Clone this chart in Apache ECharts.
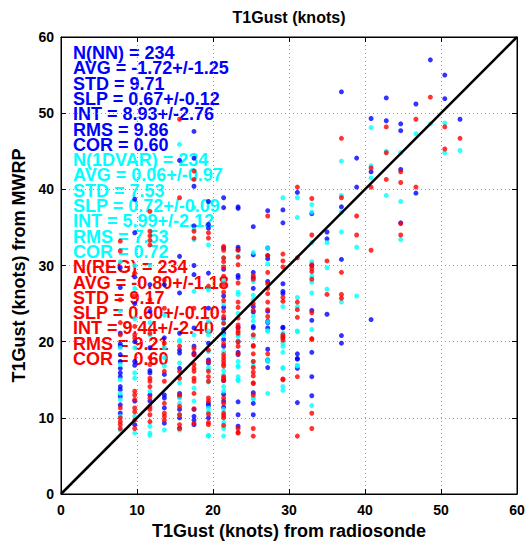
<!DOCTYPE html>
<html>
<head>
<meta charset="utf-8">
<script src="https://cdn.jsdelivr.net/npm/echarts@6/dist/echarts.min.js"></script>
<style>
html,body{margin:0;padding:0;background:#fff;}
#chart{width:528px;height:545px;}
</style>
</head>
<body>
<div id="chart"></div>
<script>
// Radiosonde gust values (knots) for each column of points
const colX = [7.8, 9.7, 11.7, 13.6, 15.6, 17.5, 19.4, 21.4, 23.3, 25.3, 27.2, 29.2, 31.1, 33.0, 35.0, 36.9, 38.9, 40.8, 42.8, 44.7, 46.7, 48.6, 50.5, 52.5];

// NN (blue) MWRP values per column
const nnY = [
  [29.7, 27.1, 21.1, 19.7, 19.4, 18.3, 17.4, 16.5, 15.9, 15.4, 14.1, 13.7, 12.8, 11.7, 10.6],
  [38.7, 34.3, 28.5, 25.0, 20.0, 17.4, 16.9, 12.2, 9.1],
  [27.5, 24.0, 19.2, 16.2, 15.9, 13.0, 12.2],
  [27.5, 20.5, 15.7, 13.0, 12.6, 11.3, 9.3],
  [43.8, 31.2, 26.4, 21.1, 18.9, 18.5, 16.5, 13.2, 12.8, 11.1, 10.0, 8.6],
  [47.6, 44.1, 40.4, 35.2, 30.0, 28.8, 21.8, 19.4, 18.5, 18.3, 11.1, 10.2, 9.7, 9.1],
  [38.4, 35.4, 34.9, 29.0, 24.4, 19.8, 17.6, 17.2, 11.9, 11.6, 10.0],
  [38.9, 37.6, 32.3, 29.5, 26.0, 24.5, 23.0, 21.6, 21.1, 20.3, 19.4, 14.9, 13.1, 12.2, 11.4],
  [37.7, 37.5, 32.4, 32.1, 28.7, 28.4, 21.9, 20.0, 18.6, 18.3, 12.1, 10.4, 8.9],
  [35.1, 31.4, 29.1, 28.4, 27.0, 24.6, 23.9, 22.0, 21.8, 13.3, 11.9, 10.4],
  [37.2, 32.3, 31.3, 30.9, 27.9, 24.0, 22.7, 22.5, 21.8, 19.0, 17.6, 17.5, 16.6],
  [37.3, 35.6, 27.6, 26.6, 26.3, 21.9, 21.8],
  [39.6, 18.4, 17.8, 17.7, 16.5, 12.0],
  [36.8, 30.0, 24.1, 22.8, 18.6, 15.4, 12.9],
  [34.4, 33.5, 23.6],
  [52.8, 37.7, 30.8, 20.8, 19.8],
  [44.1, 40.3],
  [49.3, 42.3, 22.9],
  [52.0, 49.0],
  [48.6, 47.7, 42.6, 35.6],
  [51.2, 39.5],
  [57.0],
  [55.0, 51.9],
  [49.2]
];

// 1DVAR (cyan) MWRP values per column
const dvarY = [
  [30.5, 24.0, 19.2, 17.0, 15.0, 13.2, 12.4, 10.2, 8.4],
  [30.0, 27.0, 23.0, 19.2, 15.9, 15.2, 10.2, 8.0],
  [30.0, 22.5, 20.9, 13.5, 8.9, 8.0, 7.7],
  [23.5, 19.2, 17.9, 16.8, 8.4],
  [45.9, 20.2, 20.0, 17.2, 14.6, 12.6, 11.9, 10.4, 8.4],
  [37.6, 34.7, 33.4, 26.6, 20.9, 13.9, 12.2],
  [32.7, 27.0, 26.8, 22.7, 21.4, 20.9, 18.7, 16.6, 16.3, 14.7, 11.3, 10.8, 7.7, 7.6],
  [31.0, 28.0, 25.0, 22.5, 20.8, 18.7, 16.2, 15.7, 14.1, 13.5, 11.1, 9.4, 8.6, 7.6],
  [31.2, 26.5, 26.2, 23.7, 20.9, 20.7, 20.1, 17.4, 16.7, 16.8, 15.4, 15.0, 14.9],
  [31.7, 27.9, 26.1, 25.5, 23.3, 22.7, 20.8, 20.6, 17.4, 16.8, 12.6, 12.5],
  [32.3, 30.2, 22.6, 21.4, 21.4, 17.6, 17.4, 13.2],
  [38.9, 24.6, 21.1, 20.8, 19.8, 19.4, 18.6, 16.6, 16.5, 14.1, 13.6],
  [38.9, 36.3, 25.8, 24.6, 21.4, 21.3, 16.9, 16.8],
  [38.0, 37.0, 33.0, 30.5, 28.6, 27.8, 26.4, 21.6, 11.6],
  [33.0, 29.7, 26.9],
  [43.7, 39.2, 37.0, 34.4, 25.2],
  [32.4, 26.0],
  [48.1, 43.1, 41.5],
  [45.0, 39.2],
  [44.8, 38.4, 33.4],
  [47.3],
  [48.6],
  [48.7, 44.8],
  [45.1]
];

// REG (red) MWRP values per column
const regY = [
  [33.2, 31.9, 25.5, 22.5, 20.9, 11.3, 10.0, 9.5, 9.1, 8.6],
  [29.0, 26.0, 22.0, 20.9, 20.5, 13.5, 13.0, 12.4, 11.3, 10.8, 9.7, 8.6],
  [37.1, 34.5, 33.9, 33.3, 32.7, 25.5, 21.1, 17.9, 17.0, 15.2, 14.8, 14.1, 12.6, 11.5, 11.1, 10.4, 9.5],
  [28.1, 24.4, 19.8, 16.1, 14.8, 11.9, 10.6, 10.2, 9.7],
  [49.2, 38.9, 19.4, 16.1, 15.2, 13.0, 11.5, 10.4, 9.1, 8.6],
  [42.4, 41.3, 34.5, 33.6, 24.4, 19.1, 18.3, 17.0, 16.5, 16.1, 15.2, 14.8, 13.2, 11.2, 9.3],
  [34.3, 33.6, 27.3, 18.9, 17.4, 16.1, 15.4, 14.8, 12.6, 12.2, 10.5, 9.4, 9.1],
  [32.5, 32.0, 31.0, 30.5, 29.8, 28.6, 27.5, 26.5, 25.4, 24.0, 23.3, 22.4, 19.7, 18.3, 17.9, 17.5, 17.1, 16.8, 15.4, 15.2, 14.9, 12.6, 11.9, 10.6, 10.3, 10.0, 9.0],
  [32.0, 31.1, 30.1, 27.7, 25.2, 24.5, 23.1, 22.2, 21.8, 21.4, 21.1, 20.0, 19.4, 18.4, 8.6, 8.1, 8.0],
  [28.7, 28.2, 25.0, 24.1, 20.9, 19.5, 19.4, 18.4, 17.4, 16.6, 16.0, 15.5, 14.6, 14.5, 13.0, 8.6, 7.6],
  [36.5, 31.3, 29.1, 27.6, 27.0, 26.3, 25.2, 24.2, 23.3, 18.4],
  [31.5, 30.6, 29.8, 25.8, 25.3, 20.9, 20.6, 20.5, 20.2, 15.1, 15.0],
  [40.3, 31.0, 25.2, 24.2, 23.2, 15.4, 7.6],
  [38.8, 34.0, 30.1, 29.6, 29.2, 28.2, 23.8, 20.4, 20.3, 10.6, 8.6],
  [30.6, 26.2],
  [46.7, 38.9, 29.1, 26.2, 25.7],
  [36.5, 34.0],
  [42.8, 40.3, 32.0],
  [48.2, 44.8, 41.3],
  [42.3, 40.9, 35.5, 34.0],
  [49.2, 40.3],
  [52.1],
  [48.2, 45.3],
  [46.7]
];

// 1:1 reference line
const diagLine = [[0, 0], [60, 60]];

// Axis ticks
const axisMin = 0, axisMax = 60, axisStep = 10;

// Statistics text
const statsNN = ['N(NN) = 234', 'AVG = -1.72+/-1.25', 'STD = 9.71', 'SLP = 0.67+/-0.12', 'INT = 8.93+/-2.76', 'RMS = 9.86', 'COR = 0.60'];
const statsDVAR = ['N(1DVAR) = 234', 'AVG = 0.06+/-0.97', 'STD = 7.53', 'SLP = 0.72+/-0.09', 'INT = 5.99+/-2.12', 'RMS = 7.53', 'COR = 0.72'];
const statsREG = ['N(REG) = 234', 'AVG = -0.80+/-1.18', 'STD = 9.17', 'SLP = 0.60+/-0.10', 'INT = 9.44+/-2.40', 'RMS = 9.21', 'COR = 0.60'];

const titleText = 'T1Gust (knots)';
const xName = 'T1Gust (knots) from radiosonde';
const yName = 'T1Gust (knots) from MWRP';

// ---- build ----
function toPoints(cols) {
  const out = [];
  cols.forEach((ys, i) => ys.forEach(y => out.push([colX[i], y])));
  return out;
}

const FONT = '"Liberation Sans", Arial, Helvetica, sans-serif';
const GRID = {left: 61, right: 11, top: 37, bottom: 51};

const statGroups = [
  {lines: statsNN, color: '#0000ff'},
  {lines: statsDVAR, color: '#00ffff'},
  {lines: statsREG, color: '#ff0000'}
];
const graphics = [];
let li = 0;
statGroups.forEach(g => g.lines.forEach(t => {
  graphics.push({
    type: 'text', x: 73, y: 53 + li * 15.3, z: 0, silent: true,
    style: {text: t, fill: g.color, font: 'bold 18px ' + FONT, verticalAlign: 'middle', align: 'left'}
  });
  li++;
}));
graphics.push({
  type: 'text', x: 289, y: 17, z: 0, silent: true,
  style: {text: titleText, fill: '#000', font: 'bold 16px ' + FONT, verticalAlign: 'middle', align: 'center'}
});

const gridLine = {show: true, lineStyle: {color: '#9a9a9a', type: [1, 3], width: 1}};
const axisBase = {
  type: 'value', min: axisMin, max: axisMax, interval: axisStep,
  axisLine: {show: true, onZero: false, lineStyle: {color: '#000', width: 1}},
  axisTick: {show: true, inside: true, length: 5, lineStyle: {color: '#000'}}
};

const chart = echarts.init(document.getElementById('chart'), null, {renderer: 'svg'});
chart.setOption({
  animation: false,
  backgroundColor: '#fff',
  grid: Object.assign({show: true, borderColor: '#000', borderWidth: 1, backgroundColor: '#fff', containLabel: false}, GRID),
  graphic: graphics,
  xAxis: [
    Object.assign({}, axisBase, {
      position: 'bottom',
      axisLabel: {color: '#000', fontWeight: 'bold', fontSize: 14, fontFamily: FONT, margin: 9},
      splitLine: gridLine,
      name: xName, nameLocation: 'middle', nameGap: 25,
      nameTextStyle: {color: '#000', fontWeight: 'bold', fontSize: 18, fontFamily: FONT}
    }),
    Object.assign({}, axisBase, {position: 'top', axisLabel: {show: false}, splitLine: {show: false}})
  ],
  yAxis: [
    Object.assign({}, axisBase, {
      position: 'left',
      axisLabel: {color: '#000', fontWeight: 'bold', fontSize: 14, fontFamily: FONT, margin: 7},
      splitLine: gridLine,
      name: yName, nameLocation: 'middle', nameGap: 33,
      nameTextStyle: {color: '#000', fontWeight: 'bold', fontSize: 18, fontFamily: FONT}
    }),
    Object.assign({}, axisBase, {position: 'right', axisLabel: {show: false}, splitLine: {show: false}})
  ],
  series: [
    {name: 'NN', type: 'scatter', data: toPoints(nnY), symbol: 'circle', symbolSize: 5, z: 2,
     itemStyle: {color: '#0000ff'}, silent: true},
    {name: '1DVAR', type: 'scatter', data: toPoints(dvarY), symbol: 'circle', symbolSize: 5, z: 3,
     itemStyle: {color: '#00ffff'}, silent: true},
    {name: 'REG', type: 'scatter', data: toPoints(regY), symbol: 'circle', symbolSize: 5, z: 4,
     itemStyle: {color: '#ff0000'}, silent: true},
    {name: '1:1', type: 'line', data: diagLine, showSymbol: false, symbol: 'none', z: 6,
     lineStyle: {color: '#000', width: 2.5}, silent: true}
  ]
});
</script>
</body>
</html>
